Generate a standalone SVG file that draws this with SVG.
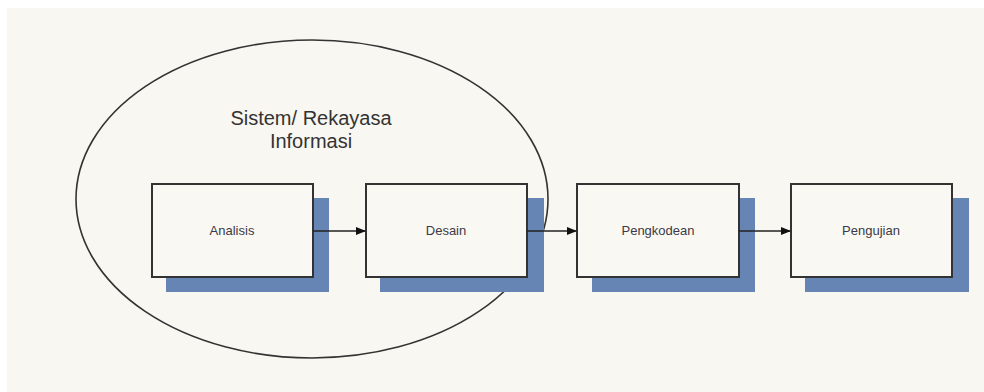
<svg xmlns="http://www.w3.org/2000/svg" width="984" height="392" viewBox="0 0 984 392">
<defs>
<style>
.box{fill:#faf8f2;stroke:#333;stroke-width:2}
.shadow{fill:#6684b4}
.lbl{font-family:"Liberation Sans",Arial,sans-serif;font-size:13px;fill:#3a3a48;text-anchor:middle}
.title{font-family:"Liberation Sans",Arial,sans-serif;font-size:20px;fill:#333;text-anchor:middle}
.conn{stroke:#222;stroke-width:1.6;fill:none}
</style>
<marker id="arr" markerWidth="10" markerHeight="8" refX="9" refY="4" orient="auto" markerUnits="userSpaceOnUse">
<path d="M0,0 L10,4 L0,8 Z" fill="#111"/>
</marker>
</defs>
<rect x="0" y="0" width="984" height="392" fill="#ffffff"/>
<rect x="7" y="8" width="977" height="384" fill="#f9f7f1"/>
<g id="sistem">
<ellipse cx="312" cy="199" rx="236" ry="159" fill="none" stroke="#333" stroke-width="1.6"/>
<text class="title" x="311" y="125">Sistem/ Rekayasa</text>
<text class="title" x="311" y="148">Informasi</text>
</g>
<g id="analisis">
<rect class="shadow" x="166" y="198" width="163" height="94"/>
<rect class="box" x="152" y="184" width="161" height="93"/>
<text class="lbl" x="232" y="235">Analisis</text>
</g>
<g id="desain">
<rect class="shadow" x="380" y="198" width="164" height="94"/>
<rect class="box" x="366" y="184" width="161" height="93"/>
<text class="lbl" x="446" y="235">Desain</text>
</g>
<g id="pengkodean">
<rect class="shadow" x="592" y="198" width="163" height="94"/>
<rect class="box" x="577" y="184" width="162" height="93"/>
<text class="lbl" x="658" y="235">Pengkodean</text>
</g>
<g id="pengujian">
<rect class="shadow" x="805" y="198" width="164" height="94"/>
<rect class="box" x="791" y="184" width="161" height="93"/>
<text class="lbl" x="871" y="235">Pengujian</text>
</g>
<g id="connectors">
<line class="conn" x1="313" y1="231" x2="365" y2="231" marker-end="url(#arr)"/>
<line class="conn" x1="527" y1="231" x2="576" y2="231" marker-end="url(#arr)"/>
<line class="conn" x1="739" y1="231" x2="790" y2="231" marker-end="url(#arr)"/>
</g>
</svg>
